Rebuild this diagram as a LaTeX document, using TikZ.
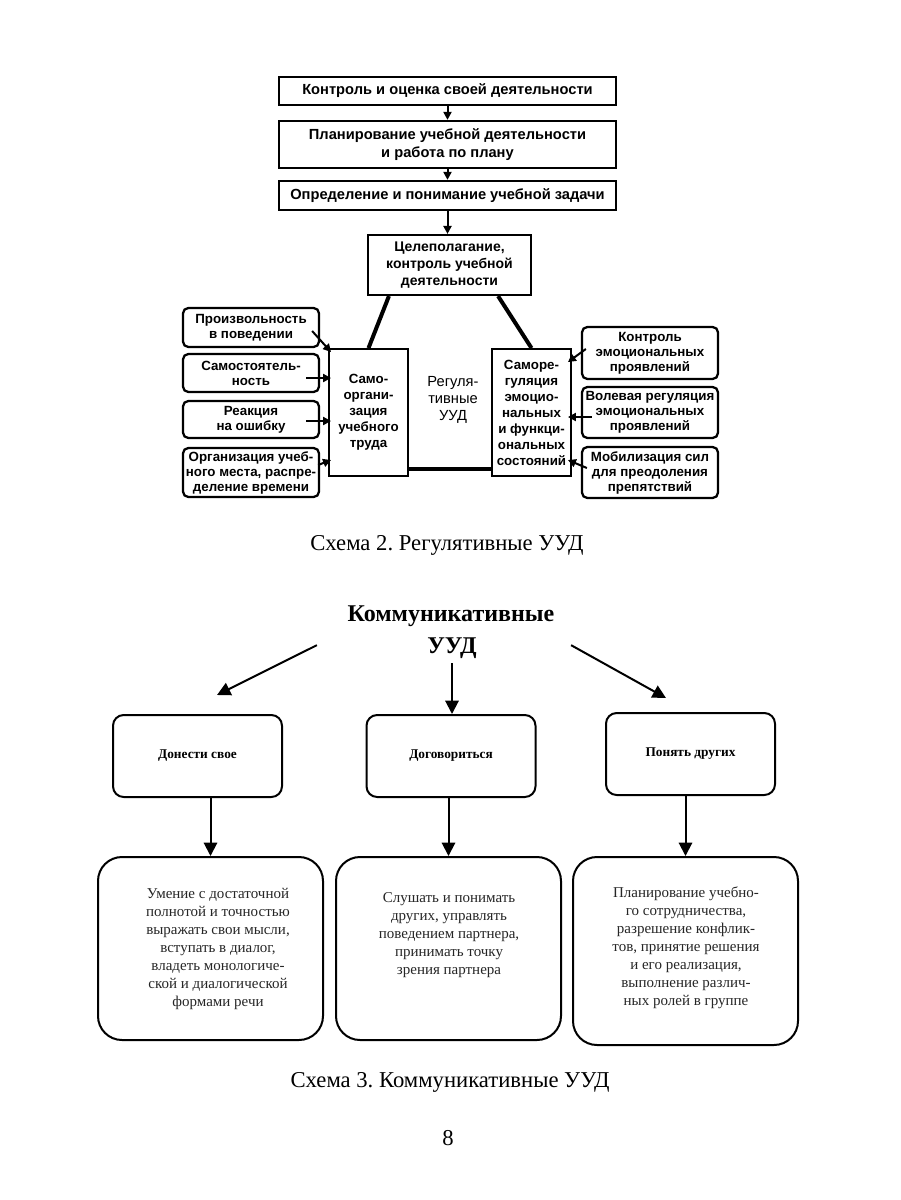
\documentclass[tikz,border=0pt]{standalone}
\usepackage{fontspec}
\setmainfont{Liberation Serif}
\newfontfamily\arialf{Liberation Sans}
\usetikzlibrary{arrows.meta,calc}
\frenchspacing
\begin{document}
\begin{tikzpicture}[x=0.75pt,y=-0.75pt,
  tbox/.style={draw,line width=1.7pt,inner sep=0pt,align=center,
    font=\arialf\bfseries\fontsize{11}{13.5}\selectfont},
  gbox/.style={draw,line width=1.6pt,inner sep=0pt,align=center,
    font=\arialf\bfseries\fontsize{10.5}{12.5}\selectfont},
  vbox/.style={draw,line width=1.4pt,inner sep=0pt,align=center,
    font=\arialf\bfseries\fontsize{10}{12}\selectfont},
  sbox/.style={draw,line width=1.7pt,rounded corners=4pt,inner sep=0pt,align=center,
    minimum width=136*0.75pt,font=\arialf\bfseries\fontsize{10}{11.25}\selectfont},
  ctext/.style={align=center,font=\arialf\fontsize{11}{13}\selectfont},
  tarrow/.style={line width=1.5pt,-{Triangle[length=6pt,width=6pt]}},
  thickl/.style={line width=3pt},
  ubox/.style={draw,line width=1.5pt,rounded corners=8pt,inner sep=0pt,
    minimum width=169*0.75pt,minimum height=82*0.75pt,align=center,
    font=\bfseries\fontsize{10}{12}\selectfont},
  lbox/.style={draw,line width=1.5pt,rounded corners=18pt,inner sep=0pt,
    minimum width=225*0.75pt},
  ltext/.style={align=center,text=black!85,font=\fontsize{11.25}{13.5}\selectfont},
  barrow/.style={line width=1.5pt,-{Triangle[length=10pt,width=10pt]}},
  caption/.style={font=\fontsize{17}{20}\selectfont}
]
\useasboundingbox (0,0) rectangle (900,1200);
\fill[white] (0,0) rectangle (900,1200);

% ---- top chain
\node[tbox,minimum width=337*0.75pt,minimum height=28*0.75pt] (T1) at (447.5,91)
  {Контроль и оценка своей деятельности};
\node[tbox,minimum width=337*0.75pt,minimum height=47*0.75pt] (T2) at (447.5,144.5)
  {Планирование учебной деятельности\\и работа по плану};
\node[tbox,minimum width=337*0.75pt,minimum height=29*0.75pt] (T3) at (447.5,195.5)
  {Определение и понимание учебной задачи};
\node[gbox,minimum width=163*0.75pt,minimum height=60*0.75pt] (G) at (449.5,265)
  {Целеполагание,\\контроль учебной\\деятельности};
\draw[tarrow] (T1.south) -- (T2.north);
\draw[tarrow] (T2.south) -- (T3.north);
\draw[tarrow] (T3.south) -- (T3.south |- G.north);

% ---- triangle
\node[vbox,minimum width=79*0.75pt,minimum height=127*0.75pt] (SO) at (368.5,412.5)
  {Само-\\органи-\\зация\\учебного\\труда};
\node[vbox,minimum width=79*0.75pt,minimum height=127*0.75pt] (SR) at (531.5,412.5)
  {Саморе-\\гуляция\\эмоцио-\\нальных\\и функци-\\ональных\\состояний};
\node[ctext] (C) at (453,400) {Регуля-\\тивные\\УУД};
\draw[thickl] ($(G.south west)+(22,0)$) -- (SO.north);
\draw[thickl] ($(G.south east)+(-34,0)$) -- (SR.north);
\draw[thickl] ($(SO.south east)+(0,-8)$) -- ($(SR.south west)+(0,-8)$);

% ---- left small boxes
\node[sbox,minimum height=39*0.75pt] (pa) at (251,327.5) {Произвольность\\в поведении};
\node[sbox,minimum height=38*0.75pt] (pb) at (251,373) {Самостоятель-\\ность};
\node[sbox,minimum height=37*0.75pt] (pc) at (251,419.5) {Реакция\\на ошибку};
\node[sbox,minimum height=49*0.75pt] (pd) at (251,472.5) {Организация учеб-\\ного места, распре-\\деление времени};
\draw[tarrow] ($(pa.east)+(-8,3.5)$) -- ($(SO.north west)+(3,4)$);
\draw[tarrow] ($(pb.east)+(-14,5)$) -- ($(SO.west)+(3,-34.5)$);
\draw[tarrow] ($(pc.east)+(-14,1.5)$) -- ($(SO.west)+(3,8.5)$);
\draw[tarrow] ($(pd.east)+(-2,-7.5)$) -- ($(SO.west)+(3,47.5)$);

% ---- right small boxes
\node[sbox,minimum height=52*0.75pt] (pe) at (650,353) {Контроль\\эмоциональных\\проявлений};
\node[sbox,minimum height=51*0.75pt] (pf) at (650,412.5) {Волевая регуляция\\эмоциональных\\проявлений};
\node[sbox,minimum height=51*0.75pt] (pg) at (650,472.5) {Мобилизация сил\\для преодоления\\препятствий};
\draw[tarrow] ($(pe.west)+(5,-4)$) -- ($(SR.north east)+(-4,14)$);
\draw[tarrow] ($(pf.west)+(11,4.5)$) -- ($(SR.east)+(-4,4.5)$);
\draw[tarrow] ($(pg.west)+(6,-4.5)$) -- ($(SR.east)+(-4,47.5)$);

\node[caption] (cap2) at (447,545) {Схема 2. Регулятивные УУД};

% ---- communicative
\node[font=\bfseries\fontsize{18}{20}\selectfont] (K1) at (451,616) {Коммуникативные};
\node[font=\bfseries\fontsize{18}{20}\selectfont] (K2) at (452,648) {УУД};

\node[ubox] (B1) at (197.5,756) {Донести свое};
\node[ubox] (B2) at (451,756) {Договориться};
\node[ubox] (B3) at (690.5,754) {Понять других};
\coordinate (la) at (217,695);
\coordinate (ra) at (666,698);
\draw[barrow] ($(K1.south west)+(-26,14)$) -- (la);
\draw[barrow] (K2.south) -- (K2.south |- B2.north);
\draw[barrow] ($(K1.south east)+(12,14)$) -- (ra);

\node[lbox,minimum height=183*0.75pt] (L1) at (210.5,948.5) {};
\node[lbox,minimum height=183*0.75pt] (L2) at (448.5,948.5) {};
\node[lbox,minimum height=188*0.75pt] (L3) at (685.5,951) {};
\draw[barrow] (L1.north |- B1.south) -- (L1.north);
\draw[barrow] (L2.north |- B2.south) -- (L2.north);
\draw[barrow] (L3.north |- B3.south) -- (L3.north);

\node[ltext] (t1) at (218,949) {Умение с достаточной\\полнотой и точностью\\выражать свои мысли,\\вступать в диалог,\\владеть монологиче-\\ской и диалогической\\формами речи};
\node[ltext] (t2) at (449,935) {Слушать и понимать\\других, управлять\\поведением партнера,\\принимать точку\\зрения партнера};
\node[ltext] (t3) at (686,947.5) {Планирование учебно-\\го сотрудничества,\\разрешение конфлик-\\тов, принятие решения\\и его реализация,\\выполнение различ-\\ных ролей в группе};

\node[caption] (cap3) at (450,1082) {Схема 3. Коммуникативные УУД};
\node[caption] (pn) at (448,1138) {8};
\end{tikzpicture}
\end{document}
